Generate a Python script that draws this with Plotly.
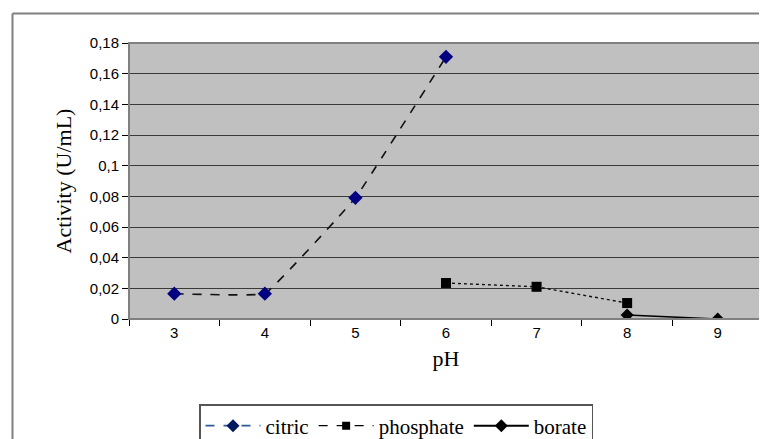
import plotly.graph_objects as go

ph_citric = ["3", "4", "5", "6"]
act_citric = [0.0165, 0.0165, 0.079, 0.171]
ph_phosphate = ["6", "7", "8"]
act_phosphate = [0.0235, 0.021, 0.0104]
ph_borate = ["8", "9"]
act_borate = [0.0026, 0.0]
categories = ["3", "4", "5", "6", "7", "8", "9"]

SERIF = "Liberation Serif, Times New Roman, serif"
SANS = "Liberation Sans, Arial, sans-serif"

fig = go.Figure()
fig.add_trace(go.Scatter(
    x=ph_citric, y=act_citric, mode="lines+markers", name="citric",
    line=dict(color="#111111", width=1.6, dash="dash", shape="spline", smoothing=0.2),
    marker=dict(symbol="diamond", size=11, color="#000080"), showlegend=False))
fig.add_trace(go.Scatter(
    x=ph_phosphate, y=act_phosphate, mode="lines+markers", name="phosphate",
    line=dict(color="#111111", width=1.4, dash="dot"),
    marker=dict(symbol="square", size=10, color="#000000"), showlegend=False))
fig.add_trace(go.Scatter(
    x=ph_borate, y=act_borate, mode="lines+markers", name="borate",
    line=dict(color="#000000", width=1.6),
    marker=dict(symbol="diamond", size=10, color="#000000"), showlegend=False))

# legend entries
fig.add_trace(go.Scatter(x=[None], y=[None], mode="lines+markers", name="citric",
    line=dict(color="#2E5A9C", width=1.6, dash="dash"),
    marker=dict(symbol="diamond", size=10, color="#001A5E")))
fig.add_trace(go.Scatter(x=[None], y=[None], mode="lines+markers", name="phosphate",
    line=dict(color="#000000", width=1.2, dash="dash"),
    marker=dict(symbol="square", size=8, color="#000000")))
fig.add_trace(go.Scatter(x=[None], y=[None], mode="lines+markers", name="borate",
    line=dict(color="#000000", width=2),
    marker=dict(symbol="diamond", size=10, color="#000000")))

O = 8  # page body margin
W, H = 767 - O, 439 - O
L, T = 129 - O, 43 - O
R = W - (763 - O)
B = H - (319 - O)
pw, ph = W - L - R, H - T - B

def px(x):
    return (x - O - L) / pw

def py(y):
    return (H - B - (y - O)) / ph

fig.update_layout(
    width=W, height=H,
    margin=dict(l=L, r=R, t=T, b=B, autoexpand=False),
    paper_bgcolor="white", plot_bgcolor="#C0C0C0",
    separators=", ",
    font=dict(family=SANS, color="#000000", size=15),
    xaxis=dict(type="category", categoryorder="array", categoryarray=categories,
               range=[-0.5, 6.5], tickson="boundaries", ticks="outside", ticklen=6,
               tickcolor="#000000", showgrid=False, showline=True, linecolor="#000000",
               linewidth=1, tickfont=dict(family=SANS, size=15), automargin=False,
               title=dict(text="pH", font=dict(family=SERIF, size=22), standoff=10)),
    yaxis=dict(range=[0, 0.18], dtick=0.02, ticks="outside", ticklen=6,
               tickcolor="#000000", showgrid=True, gridcolor="#3a3a3a", gridwidth=1,
               showline=True, linecolor="#000000", linewidth=1, zeroline=False,
               tickfont=dict(family=SANS, size=15), automargin=False,
               title=dict(text="Activity (U/mL)", font=dict(family=SERIF, size=22), standoff=12)),
    legend=dict(orientation="h", x=px(199), y=py(404), xanchor="left", yanchor="top",
                bordercolor="#555555", borderwidth=1.5, bgcolor="white",
                font=dict(family=SERIF, size=21), itemwidth=55,
                tracegroupgap=0),
    shapes=[
        dict(type="rect", xref="paper", yref="paper", x0=0, x1=1, y0=0, y1=1,
             line=dict(color="#808080", width=2), fillcolor="rgba(0,0,0,0)", layer="above"),
        dict(type="line", xref="paper", yref="paper", x0=px(12.5), x1=px(12.5),
             y0=py(13.5), y1=py(445), line=dict(color="#808080", width=2)),
        dict(type="line", xref="paper", yref="paper", x0=px(12.5), x1=px(770),
             y0=py(13.5), y1=py(13.5), line=dict(color="#808080", width=2)),
    ],
    annotations=[
        dict(text="p", xref="paper", yref="paper", x=px(166), y=py(-3), xanchor="center",
             yanchor="middle", showarrow=False, font=dict(family=SERIF, size=20, color="#000000")),
    ],
)

fig.write_html("out.html")
